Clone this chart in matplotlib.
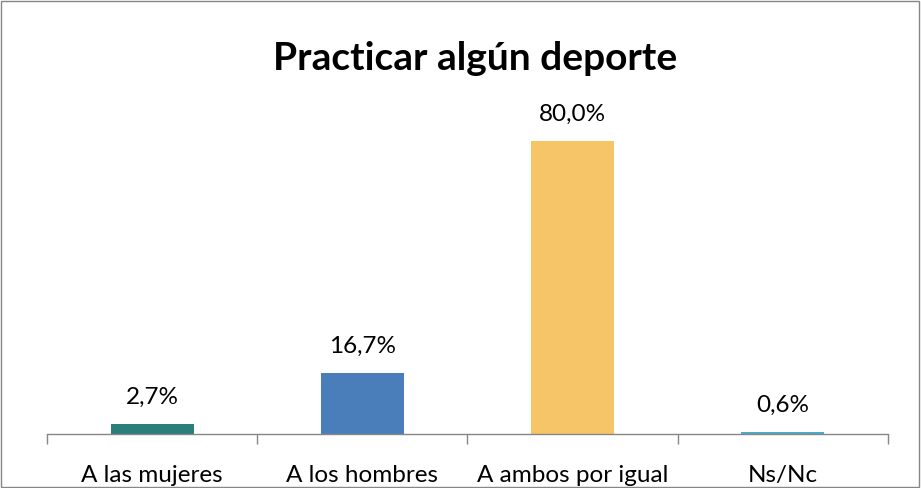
import matplotlib
matplotlib.use("Agg")
import matplotlib.pyplot as plt
from matplotlib.patches import Rectangle

categories = ["A las mujeres", "A los hombres", "A ambos por igual", "Ns/Nc"]
values = [2.7, 16.7, 80.0, 0.6]
labels = ["2,7%", "16,7%", "80,0%", "0,6%"]
colors = ["#2A7F7A", "#4A7EBB", "#F6C567", "#4BACC6"]
title = "Practicar algún deporte"

plt.rcParams['font.family'] = ['Lato', 'DejaVu Sans']

fig = plt.figure(figsize=(9.21, 4.88), dpi=100)
ax = fig.add_axes([0.051, 0.1107, 0.913, 0.684])
x = list(range(len(categories)))
ax.bar(x, values, width=0.395, color=colors, edgecolor="none", zorder=2)
for xi, v, lab in zip(x, values, labels):
    ax.annotate(lab, (xi, v), xytext=(0, 14.4), textcoords="offset points",
                ha="center", va="baseline", fontsize=17.5, color="#000000")
ax.set_xlim(-0.5, 3.5)
ax.set_ylim(0, 91.2)
for s in ["top", "right", "left"]:
    ax.spines[s].set_visible(False)
ax.spines["bottom"].set_color("#868686")
ax.spines["bottom"].set_linewidth(1)
ax.set_yticks([])
ax.set_xticks(x)
ax.set_xticklabels(categories, fontsize=17.5, va="baseline")
ax.tick_params(axis="x", which="major", length=0, pad=34.5)
ax.set_xticks([-0.5, 0.5, 1.5, 2.5, 3.5], minor=True)
ax.tick_params(axis="x", which="minor", length=7, color="#868686", width=1)
fig.text(0.5157, 0.8566, title, ha="center", va="baseline", fontsize=28, fontweight="bold")
fig.patches.append(Rectangle((0.001, 0.002), 0.997, 0.995, transform=fig.transFigure,
                             fill=False, edgecolor="#868686", linewidth=1))
fig.savefig("out.png", dpi=100)
